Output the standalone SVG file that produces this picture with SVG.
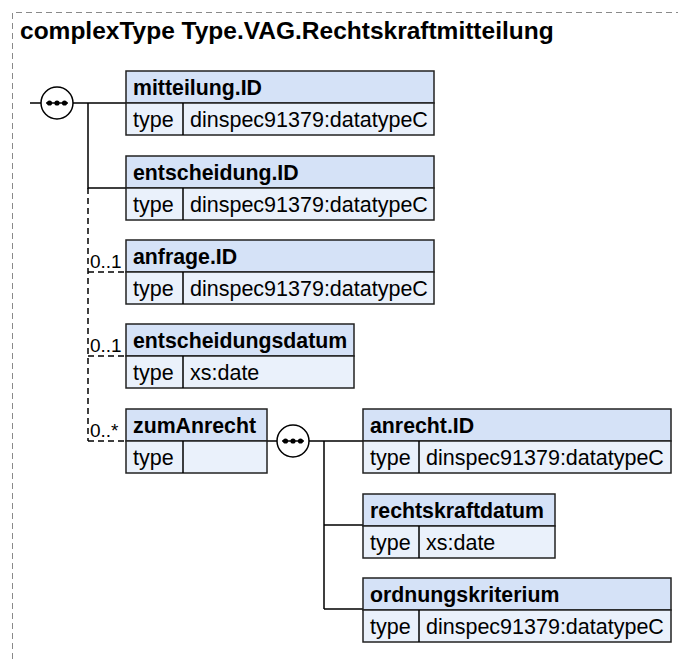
<svg xmlns="http://www.w3.org/2000/svg" width="678" height="659" viewBox="0 0 678 659">
<style>
.frame{fill:none;stroke:#8a8a8a;stroke-width:1;stroke-dasharray:6,4}
.title{font-family:"Liberation Sans",Arial,sans-serif;font-weight:bold;font-size:24.5px;fill:#000}
.hdr{fill:#d5e2f7;stroke:#222;stroke-width:1.5}
.row{fill:#eaf1fb;stroke:#222;stroke-width:1.5}
.name{font-family:"Liberation Sans",Arial,sans-serif;font-weight:bold;font-size:21.3px;fill:#000}
.txt{font-family:"Liberation Sans",Arial,sans-serif;font-size:21.5px;fill:#000}
.card{font-family:"Liberation Sans",Arial,sans-serif;font-size:19px;fill:#000}
.ln{fill:none;stroke:#000;stroke-width:1.5}
.dash{fill:none;stroke:#000;stroke-width:1.5;stroke-dasharray:6,4}
.seq{fill:#fff;stroke:#000;stroke-width:1.5}
</style>
<defs>
<g id="seqsym">
<circle class="seq" cx="0" cy="0" r="16"/>
<line x1="-11" y1="0" x2="11" y2="0" stroke="#000" stroke-width="1.5"/>
<circle cx="-7.5" cy="0" r="2.6" fill="#000"/>
<circle cx="0" cy="0" r="2.6" fill="#000"/>
<circle cx="7.5" cy="0" r="2.6" fill="#000"/>
</g>
</defs>
<path class="frame" d="M12.5,659 V12.5 H678"/>
<text class="title" x="20" y="39">complexType Type.VAG.Rechtskraftmitteilung</text>

<g id="connectors">
<path class="ln" d="M30,103 H41 M73,103 H126 M88,103 V188 H126"/>
<path class="dash" d="M88,188 V441 M88,272 H126 M88,356 H126 M88,441 H126"/>
<path class="ln" d="M267,441 H277 M309,441 H363 M324,441 V609 M324,525 H363 M324,609 H363"/>
<use href="#seqsym" x="57" y="103"/>
<use href="#seqsym" x="293" y="441"/>
<text class="card" x="90" y="268">0..1</text>
<text class="card" x="90" y="352">0..1</text>
<text class="card" x="90" y="437">0..*</text>
</g>

<g id="mitteilung.ID">
<rect class="hdr" x="126" y="71" width="308" height="32"/>
<rect class="row" x="126" y="103" width="308" height="32"/>
<line class="ln" x1="183" y1="103" x2="183" y2="135"/>
<text class="name" x="133" y="95">mitteilung.ID</text>
<text class="txt" x="133" y="127">type</text>
<text class="txt" x="190" y="127">dinspec91379:datatypeC</text>
</g>

<g id="entscheidung.ID">
<rect class="hdr" x="126" y="156" width="308" height="32"/>
<rect class="row" x="126" y="188" width="308" height="32"/>
<line class="ln" x1="183" y1="188" x2="183" y2="220"/>
<text class="name" x="133" y="180">entscheidung.ID</text>
<text class="txt" x="133" y="212">type</text>
<text class="txt" x="190" y="212">dinspec91379:datatypeC</text>
</g>

<g id="anfrage.ID">
<rect class="hdr" x="126" y="240" width="308" height="32"/>
<rect class="row" x="126" y="272" width="308" height="32"/>
<line class="ln" x1="183" y1="272" x2="183" y2="304"/>
<text class="name" x="133" y="264">anfrage.ID</text>
<text class="txt" x="133" y="296">type</text>
<text class="txt" x="190" y="296">dinspec91379:datatypeC</text>
</g>

<g id="entscheidungsdatum">
<rect class="hdr" x="126" y="324" width="228" height="32"/>
<rect class="row" x="126" y="356" width="228" height="32"/>
<line class="ln" x1="183" y1="356" x2="183" y2="388"/>
<text class="name" x="133" y="348">entscheidungsdatum</text>
<text class="txt" x="133" y="380">type</text>
<text class="txt" x="190" y="380">xs:date</text>
</g>

<g id="zumAnrecht">
<rect class="hdr" x="126" y="409" width="141" height="32"/>
<rect class="row" x="126" y="441" width="141" height="32"/>
<line class="ln" x1="183" y1="441" x2="183" y2="473"/>
<text class="name" x="133" y="433">zumAnrecht</text>
<text class="txt" x="133" y="465">type</text>
</g>

<g id="anrecht.ID">
<rect class="hdr" x="363" y="409" width="308" height="32"/>
<rect class="row" x="363" y="441" width="308" height="32"/>
<line class="ln" x1="419" y1="441" x2="419" y2="473"/>
<text class="name" x="370" y="433">anrecht.ID</text>
<text class="txt" x="370" y="465">type</text>
<text class="txt" x="426" y="465">dinspec91379:datatypeC</text>
</g>

<g id="rechtskraftdatum">
<rect class="hdr" x="363" y="494" width="192" height="32"/>
<rect class="row" x="363" y="526" width="192" height="32"/>
<line class="ln" x1="419" y1="526" x2="419" y2="558"/>
<text class="name" x="370" y="518">rechtskraftdatum</text>
<text class="txt" x="370" y="550">type</text>
<text class="txt" x="426" y="550">xs:date</text>
</g>

<g id="ordnungskriterium">
<rect class="hdr" x="363" y="578" width="308" height="32"/>
<rect class="row" x="363" y="610" width="308" height="32"/>
<line class="ln" x1="419" y1="610" x2="419" y2="642"/>
<text class="name" x="370" y="602">ordnungskriterium</text>
<text class="txt" x="370" y="634">type</text>
<text class="txt" x="426" y="634">dinspec91379:datatypeC</text>
</g>
</svg>
